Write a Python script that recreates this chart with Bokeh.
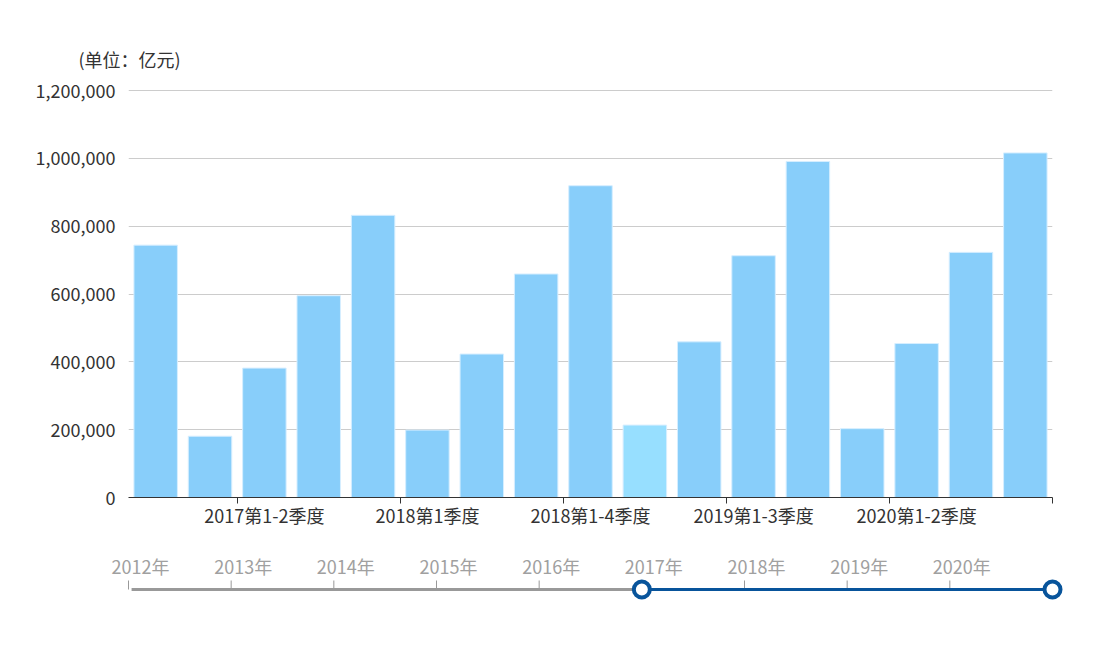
from bokeh.plotting import figure
from bokeh.models import (ColumnDataSource, Range1d, FixedTicker, NumeralTickFormatter)
from bokeh.layouts import column
from bokeh.embed import file_html
from bokeh.resources import INLINE
from bokeh.core.properties import value

# ---- data ----
categories = ["2016第1-4季度", "2017第1季度", "2017第1-2季度", "2017第1-3季度", "2017第1-4季度",
              "2018第1季度", "2018第1-2季度", "2018第1-3季度", "2018第1-4季度",
              "2019第1季度", "2019第1-2季度", "2019第1-3季度", "2019第1-4季度",
              "2020第1季度", "2020第1-2季度", "2020第1-3季度", "2020第1-4季度"]
gdp = [744127, 180683, 381490, 595000, 832036, 198783, 423000, 659000, 919281,
       213433, 459000, 712845, 990865, 203000, 454000, 722786, 1015986]
y_ticks = [0, 200000, 400000, 600000, 800000, 1000000, 1200000]
timeline_years = ["2012年", "2013年", "2014年", "2015年", "2016年",
                  "2017年", "2018年", "2019年", "2020年"]
current_year_index = 5
highlight_index = 9
unit_label = "(单位：亿元)"

FONT = "Noto Sans CJK SC"
BASE = "#88CEFA"
HL = "#97DFFF"
n = len(categories)

src = ColumnDataSource(dict(
    x=[i + 0.5 for i in range(n)],
    top=gdp,
    color=[HL if i == highlight_index else BASE for i in range(n)],
))

p = figure(width=1079, height=548, output_backend="svg", toolbar_location=None,
           x_range=Range1d(0, n), y_range=Range1d(0, 1203000),
           min_border_left=128, min_border_right=27, min_border_top=89, min_border_bottom=51)
p.outline_line_color = None
p.background_fill_color = "white"
p.border_fill_color = "white"

p.vbar(x="x", top="top", bottom=0, width=0.8, source=src, fill_color="color",
       line_color="#D6EEFF", line_width=1)

# title as axis name
p.title.text = unit_label
p.title.text_font = FONT
p.title.text_font_size = "18px"
p.title.text_font_style = "normal"
p.title.text_color = "#333333"
p.title.align = "left"
p.title.offset = -50
p.title.standoff = 36

# y axis
p.yaxis.ticker = FixedTicker(ticks=y_ticks)
p.yaxis.formatter = NumeralTickFormatter(format="0,0")
p.yaxis.axis_line_color = None
p.yaxis.major_tick_line_color = None
p.yaxis.major_tick_out = 0
p.yaxis.major_tick_in = 0
p.yaxis.minor_tick_line_color = None
p.yaxis.minor_tick_out = 0
p.yaxis.major_label_standoff = 13
p.yaxis.major_label_text_font = FONT
p.yaxis.major_label_text_font_size = "18px"
p.yaxis.major_label_text_color = "#333333"
p.ygrid.ticker = FixedTicker(ticks=y_ticks[1:])
p.ygrid.grid_line_color = "#CCCCCC"
p.ygrid.grid_line_width = 1
p.xgrid.visible = False

# x axis: labels on every third bar, ticks on boundaries
label_idx = list(range(2, n, 3))
p.xaxis.ticker = FixedTicker(ticks=[i + 0.5 for i in label_idx],
                             minor_ticks=[i for i in label_idx] + [n])
p.xaxis.major_label_overrides = {i + 0.5: categories[i] for i in label_idx}
p.xaxis.major_tick_line_color = None
p.xaxis.major_tick_out = 0
p.xaxis.major_tick_in = 0
p.xaxis.minor_tick_out = 6
p.xaxis.minor_tick_in = 0
p.xaxis.minor_tick_line_color = "#333333"
p.xaxis.minor_tick_line_width = 1
p.xaxis.axis_line_color = "#333333"
p.xaxis.axis_line_width = 1
p.xaxis.major_label_standoff = -2
p.xaxis.major_label_text_font = FONT
p.xaxis.major_label_text_font_size = "18px"
p.xaxis.major_label_text_color = "#333333"

# ---- timeline (frame aligned with the chart frame) ----
n_pts = len(timeline_years) + 1
t = figure(width=1079, height=100, output_backend="svg", toolbar_location=None,
           x_range=Range1d(0, n_pts - 1), y_range=Range1d(0, 100),
           x_axis_type=None, y_axis_type=None,
           min_border_left=128, min_border_right=27, min_border_top=0, min_border_bottom=0)
t.outline_line_color = None
t.xgrid.visible = False
t.ygrid.visible = False
t.background_fill_color = "white"
t.border_fill_color = "white"

TRACK_Y = 59
pos = list(range(n_pts))
# ticks
t.segment(x0=pos, y0=[TRACK_Y] * n_pts, x1=pos, y1=[TRACK_Y + 9] * n_pts,
          line_color="#999999", line_width=1, level="overlay")
# passive track
t.segment(x0=[0.03], y0=[TRACK_Y], x1=[current_year_index], y1=[TRACK_Y],
          line_color="#999999", line_width=3, level="overlay")
# active track
t.segment(x0=[current_year_index], y0=[TRACK_Y], x1=[n_pts - 1], y1=[TRACK_Y],
          line_color="#08549B", line_width=3, level="overlay")
# labels
t.text(x=list(range(len(timeline_years))), y=[83] * len(timeline_years), text=timeline_years,
       text_font=value(FONT), text_font_size="18px", text_color="#A0A0A0",
       text_align="center", text_baseline="middle", x_offset=12, level="overlay")
# handles
t.scatter(x=[current_year_index, n_pts - 1], y=[TRACK_Y, TRACK_Y], size=16,
          fill_color="white", line_color="#08549B", line_width=4, level="overlay")

layout = column(p, t, spacing=0)
open("out.html", "w").write(file_html(layout, INLINE))
